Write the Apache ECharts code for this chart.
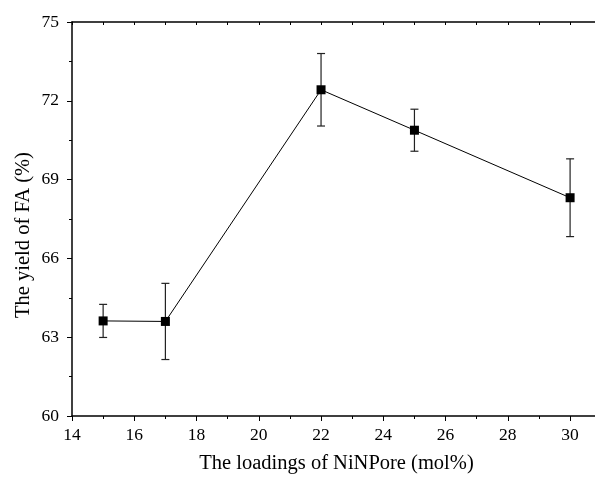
<!DOCTYPE html>
<html><head><meta charset="utf-8">
<script src="https://cdn.jsdelivr.net/npm/echarts@6/dist/echarts.min.js"></script>
<style>html,body{margin:0;padding:0;background:#fff}#c{width:595px;height:479px}</style>
</head><body><div id="c"></div>
<script>
var loadings = [15, 17, 22, 25, 30];
var yieldFA = [63.62, 63.6, 72.42, 70.88, 68.31];
var errFA = [0.63, 1.45, 1.38, 0.8, 1.48];
var xTitle = 'The loadings of NiNPore (mol%)';
var yTitle = 'The yield of FA (%)';

var font = 'Liberation Serif';
var chart = echarts.init(document.getElementById('c'), null, {renderer: 'canvas'});
var pts = loadings.map(function (x, i) { return [x, yieldFA[i]]; });
var errData = loadings.map(function (x, i) { return [x, yieldFA[i] - errFA[i], yieldFA[i] + errFA[i]]; });

chart.setOption({
  animation: false,
  grid: {left: 72, right: 0, top: 22, bottom: 61},
  xAxis: [
    {type: 'value', position: 'bottom', min: 14, max: 30.8, interval: 2,
     name: xTitle, nameLocation: 'middle', nameGap: 37,
     nameTextStyle: {fontFamily: font, fontSize: 20.5, color: '#000', padding: [0, 0, 0, 6]},
     axisLine: {show: true, onZero: false, lineStyle: {color: '#000', width: 1.5}},
     axisTick: {show: true, inside: false, length: 5, lineStyle: {color: '#000', width: 1}},
     axisLabel: {fontFamily: font, fontSize: 17.5, color: '#000', margin: 10, showMaxLabel: false},
     splitLine: {show: false}},
    {type: 'value', position: 'bottom', min: 14, max: 30.8, interval: 1,
     axisLine: {show: false, onZero: false},
     axisTick: {show: true, inside: false, length: 3, lineStyle: {color: '#000', width: 1}},
     axisLabel: {show: false}, splitLine: {show: false}},
    {type: 'value', position: 'top', min: 14, max: 30.8, interval: 1,
     axisLine: {show: true, onZero: false, lineStyle: {color: '#000', width: 1.5}},
     axisTick: {show: true, inside: true, length: 3, lineStyle: {color: '#000', width: 1}},
     axisLabel: {show: false}, splitLine: {show: false}}
  ],
  yAxis: [
    {type: 'value', min: 60, max: 75, interval: 3,
     name: yTitle, nameLocation: 'middle', nameGap: 38, nameMoveOverlap: false,
     nameTextStyle: {fontFamily: font, fontSize: 20.5, color: '#000', padding: [0, 32, 0, 0]},
     axisLine: {show: true, onZero: false, lineStyle: {color: '#000', width: 1.5}},
     axisTick: {show: true, inside: false, length: 5, lineStyle: {color: '#000', width: 1}},
     minorTick: {show: true, splitNumber: 2, length: 3, lineStyle: {color: '#000', width: 1}},
     axisLabel: {fontFamily: font, fontSize: 17.5, color: '#000', margin: 13},
     splitLine: {show: false}}
  ],
  series: [
    {type: 'custom', xAxisIndex: 0, yAxisIndex: 0, data: errData, z: 3,
     renderItem: function (params, api) {
       var x = api.value(0);
       var lo = api.coord([x, api.value(1)]);
       var hi = api.coord([x, api.value(2)]);
       var hw = 4;
       var st = {stroke: '#222', lineWidth: 1.2};
       return {type: 'group', children: [
         {type: 'line', shape: {x1: lo[0], y1: lo[1], x2: hi[0], y2: hi[1]}, style: st},
         {type: 'line', shape: {x1: lo[0] - hw, y1: lo[1], x2: lo[0] + hw, y2: lo[1]}, style: st},
         {type: 'line', shape: {x1: hi[0] - hw, y1: hi[1], x2: hi[0] + hw, y2: hi[1]}, style: st}
       ]};
     }},
    {type: 'line', xAxisIndex: 0, yAxisIndex: 0, data: pts, z: 4,
     symbol: 'rect', symbolSize: 9, showSymbol: true,
     lineStyle: {color: '#000', width: 1},
     itemStyle: {color: '#000', borderWidth: 0}}
  ]
});
</script></body></html>
